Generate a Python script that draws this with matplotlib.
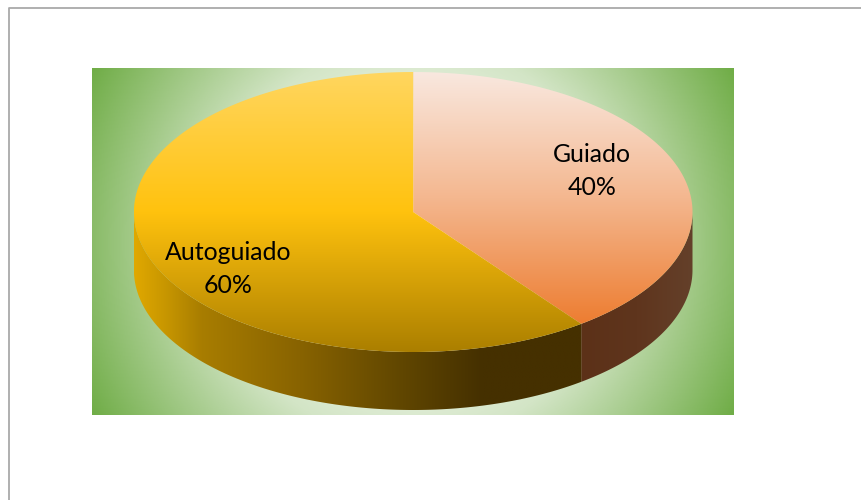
import numpy as np
import matplotlib
matplotlib.use("Agg")
import matplotlib.pyplot as plt
from matplotlib.colors import LinearSegmentedColormap
from matplotlib.patches import Polygon

categories = ["Guiado", "Autoguiado"]
values = [40, 60]
value_labels = ["40%", "60%"]

W, H = 861, 500
# pie geometry, in picture pixels
CX, CY, RX, RY, DEPTH = 413.2, 212, 279.3, 140, 58
BG = (92, 734, 68, 415)


def gradient_image(ax, cmap, extent, grid, clip):
    im = ax.imshow(grid, cmap=cmap, vmin=0, vmax=1, extent=extent, aspect="auto",
                   interpolation="bilinear", zorder=2)
    im.set_clip_path(clip)
    return im


def rim(a):
    # a is clockwise from the top of the pie, in radians
    # the tilted view squeezes the angles a little
    a = a + 0.018 * np.sin(2 * a)
    return CX + RX * np.sin(a), CY - RY * np.cos(a)


fig = plt.figure(figsize=(W / 100, H / 100), dpi=100)
ax = fig.add_axes([0, 0, 1, 1])
ax.set_xlim(0, W)
ax.set_ylim(H, 0)
ax.axis("off")

# page frame
ax.plot([9, 9, W], [H, 8, 8], color="#a9a9a9", lw=1.3, zorder=1)

# background
bg_cmap = LinearSegmentedColormap.from_list(
    "bg", [(0, "#ffffff"), (0.3, "#eef5e8"), (0.55, "#d3e5c6"), (1, "#70ad47")])
x0, x1, y0, y1 = BG
xx, yy = np.meshgrid(np.linspace(x0, x1, 400), np.linspace(y0, y1, 300))
cx, cy = (x0 + x1) / 2, (y0 + y1) / 2
dist = np.hypot(xx - cx, yy - cy) / np.hypot(x1 - cx, y1 - cy)
ax.imshow(dist, cmap=bg_cmap, vmin=0, vmax=1, extent=(x0, x1, y1, y0), aspect="auto",
          interpolation="bilinear", zorder=1)

fractions = np.array(values) / sum(values)
angles = np.concatenate([[0], np.cumsum(fractions)]) * 2 * np.pi

top_cmaps = [
    LinearSegmentedColormap.from_list("top0", ["#f9e8df", "#f4b78f", "#ed7d31"]),
    LinearSegmentedColormap.from_list("top1", ["#ffd65f", "#ffc20e", "#ab7f00"]),
]
side_cmaps = [
    LinearSegmentedColormap.from_list("side0", ["#5c3118", "#5f351d", "#64402a"]),
    LinearSegmentedColormap.from_list(
        "side1", [(0, "#e0a800"), (0.07, "#c79600"), (0.15, "#a87d00"), (0.37, "#886300"),
                  (0.6, "#604600"), (0.78, "#453000"), (1, "#453000")]),
]

# sides: only the front part of the rim can be seen
for i in range(len(values)):
    a0, a1 = angles[i], angles[i + 1]
    lo, hi = max(a0, np.pi / 2), min(a1, 3 * np.pi / 2)
    t = np.linspace(lo, hi, 200)
    px, py = rim(t)
    pts = np.r_[np.c_[px, py], np.c_[px[::-1], py[::-1] + DEPTH]]
    clip = Polygon(pts, closed=True, transform=ax.transData, fc="none", ec="none")
    ax.add_patch(clip)
    left, right = px.min(), px.max()
    g = np.linspace(0, 1, 256).reshape(1, -1)
    gradient_image(ax, side_cmaps[i], (left, right, CY + RY + DEPTH, CY), g, clip)

# top face
for i in range(len(values)):
    t = np.linspace(angles[i], angles[i + 1], 300)
    px, py = rim(t)
    pts = np.r_[[[CX, CY]], np.c_[px, py]]
    clip = Polygon(pts, closed=True, transform=ax.transData, fc="none", ec="none")
    ax.add_patch(clip)
    top = py.min()
    bottom = py.max() if i == 0 else CY + RY
    g = np.linspace(0, 1, 256).reshape(-1, 1)
    gradient_image(ax, top_cmaps[i], (CX - RX, CX + RX, bottom, top), g, clip)

ax.set_xlim(0, W)
ax.set_ylim(H, 0)

# labels
label_pos = [(592, 171), (228, 269)]
for name, val, (lx, ly) in zip(categories, value_labels, label_pos):
    ax.text(lx, ly, name + "\n" + val, ha="center", va="center", fontsize=17.9,
            family="Lato", color="#000000", linespacing=1.55, zorder=5)

fig.savefig("out.png", dpi=100)
